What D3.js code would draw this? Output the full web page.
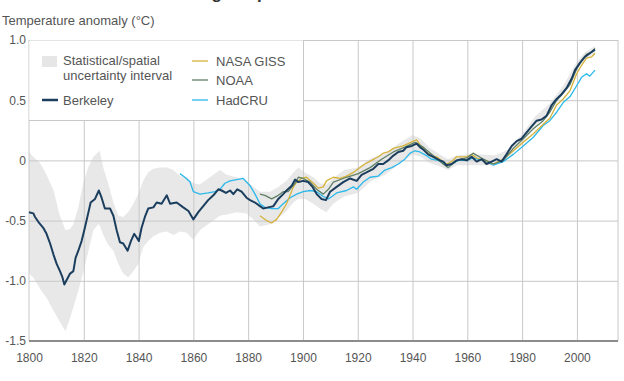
<!DOCTYPE html>
<html>
<head>
<meta charset="utf-8">
<script src="https://cdn.jsdelivr.net/npm/d3@7"></script>
<style>
  body { margin: 0; background: #fff; }
  svg { display: block; font-family: "Liberation Sans", Arial, sans-serif; }
</style>
</head>
<body>
<div id="chart"></div>
<script>
// Data (year, anomaly in degC)
const berkeley = [
  [1800,-0.43],[1801.6,-0.44],[1802.2,-0.47],[1803.4,-0.51],[1805.2,-0.56],[1806.4,-0.61],[1807.7,-0.69],
  [1808.9,-0.78],[1810.1,-0.86],[1811.3,-0.92],[1812.2,-0.97],[1812.9,-1.03],[1813.6,-1.0],[1815,-0.94],
  [1816.2,-0.92],[1817,-0.81],[1818,-0.75],[1819.2,-0.67],[1820.4,-0.56],[1821.6,-0.44],[1822.5,-0.35],
  [1824.1,-0.32],[1825.5,-0.25],[1826.5,-0.31],[1827.7,-0.40],[1829.6,-0.40],[1830.8,-0.46],[1832,-0.58],
  [1833.2,-0.68],[1834.4,-0.69],[1836,-0.75],[1837.2,-0.67],[1838.4,-0.61],[1839.3,-0.64],[1840.1,-0.67],
  [1841.1,-0.56],[1842.3,-0.47],[1843.5,-0.40],[1845.4,-0.39],[1846.6,-0.35],[1848.4,-0.36],[1850.3,-0.29],
  [1851.5,-0.36],[1853.9,-0.35],[1856.3,-0.39],[1858.2,-0.42],[1860,-0.49],[1861.8,-0.43],[1863.6,-0.38],
  [1865.4,-0.33],[1867.3,-0.29],[1869.1,-0.24],[1870.3,-0.25],[1871.9,-0.27],[1873.4,-0.25],[1874.6,-0.28],
  [1876,-0.24],[1877.6,-0.26],[1879.4,-0.31],[1880.7,-0.33],[1882.5,-0.35],[1884.3,-0.38],[1885.5,-0.40],
  [1887.3,-0.39],[1889.2,-0.38],[1891,-0.32],[1892.8,-0.28],[1894,-0.25],[1895.9,-0.21],[1897.1,-0.16],
  [1898.3,-0.18],[1900.1,-0.17],[1901.9,-0.18],[1903.5,-0.22],[1905,-0.28],[1906.8,-0.32],[1908.4,-0.33],
  [1909.9,-0.26],[1912.3,-0.22],[1914.7,-0.18],[1917.2,-0.15],[1919.6,-0.17],[1921.4,-0.12],[1923.2,-0.10],
  [1925.7,-0.07],[1927.5,-0.03],[1929.3,-0.03],[1931.1,0.0],[1933,0.04],[1934.8,0.07],[1936.6,0.08],
  [1937.8,0.11],[1939.7,0.12],[1941.5,0.14],[1942.7,0.11],[1943.9,0.09],[1945.7,0.05],[1947.5,0.03],
  [1950,0.0],[1951.2,-0.01],[1952.4,-0.04],[1954.3,-0.03],[1956.1,0.0],[1957.9,0.01],[1959.8,0.0],
  [1961.6,0.03],[1963.4,-0.01],[1965.3,0.01],[1967,-0.03],[1968.9,-0.01],[1970.7,0.01],[1972.5,-0.01],
  [1974.3,0.05],[1976.2,0.12],[1978,0.16],[1979.8,0.18],[1981.6,0.23],[1983.4,0.28],[1985.3,0.33],
  [1987.1,0.34],[1988.9,0.37],[1990.8,0.46],[1992.6,0.51],[1994.4,0.55],[1996.2,0.60],[1998.1,0.68],
  [1999.3,0.75],[2001.1,0.81],[2002.9,0.86],[2004.7,0.89],[2006.6,0.92]
];

const nasaGiss = [
  [1884.3,-0.46],[1886.7,-0.50],[1888.6,-0.52],[1890.4,-0.49],[1892.2,-0.43],[1894,-0.36],[1895.3,-0.29],
  [1896.5,-0.22],[1897.7,-0.18],[1899.5,-0.15],[1901.3,-0.14],[1903.8,-0.19],[1905.6,-0.23],[1907.4,-0.22],
  [1908.6,-0.17],[1911.1,-0.14],[1913.5,-0.15],[1915.9,-0.13],[1918.4,-0.10],[1920.2,-0.07],[1922.6,-0.03],
  [1925.1,0.0],[1927.5,0.03],[1929.3,0.06],[1931.1,0.07],[1933,0.10],[1934.8,0.11],[1936.6,0.12],
  [1938.4,0.14],[1940.3,0.16],[1941.5,0.17],[1943.3,0.11],[1945.1,0.07],[1946.9,0.04],[1948.8,0.03],
  [1950.6,0.0],[1952.4,-0.03],[1954.3,-0.01],[1956.1,0.03],[1957.9,0.03],[1959.8,0.03],[1961.6,0.05],
  [1963.4,0.02],[1965.9,0.0],[1969.5,-0.03],[1973.1,0.01],[1976.8,0.08],[1980.4,0.15],[1984,0.22],
  [1987.7,0.30],[1990.1,0.35],[1992.6,0.46],[1995,0.51],[1997.5,0.58],[1999.9,0.72],[2001.7,0.79],
  [2003.5,0.85],[2005.4,0.86],[2006.6,0.89]
];

const noaa = [
  [1884.3,-0.28],[1886.1,-0.29],[1888.6,-0.32],[1891,-0.29],[1892.8,-0.26],[1894.6,-0.26],[1897.1,-0.19],
  [1898.3,-0.14],[1900.1,-0.15],[1902.6,-0.18],[1905,-0.24],[1907.4,-0.28],[1909.3,-0.24],[1911.1,-0.18],
  [1915.9,-0.14],[1920.2,-0.11],[1924.5,-0.06],[1928.7,0.01],[1933,0.07],[1937.2,0.11],[1940.9,0.15],
  [1943.9,0.11],[1947.5,0.04],[1951.2,-0.03],[1953,-0.06],[1956.1,0.0],[1959.8,0.02],[1962.1,0.06],
  [1965.9,0.01],[1969.5,-0.03],[1973.1,0.0],[1976.8,0.10],[1980.4,0.18],[1984,0.26],[1987.7,0.33],
  [1990.1,0.40],[1992.6,0.50],[1995,0.56],[1997.5,0.63],[1999.9,0.76],[2001.7,0.83],[2003.5,0.88],
  [2005.4,0.90],[2006.6,0.93]
];

const hadCru = [
  [1855.1,-0.11],[1856.9,-0.14],[1858.8,-0.18],[1860,-0.26],[1862.4,-0.28],[1865.4,-0.27],[1867.9,-0.26],
  [1869.7,-0.24],[1871.5,-0.19],[1873.4,-0.17],[1875.8,-0.16],[1878.2,-0.15],[1880.7,-0.21],[1882.5,-0.28],
  [1884.3,-0.36],[1886.1,-0.39],[1888.6,-0.40],[1891,-0.40],[1892.8,-0.36],[1895.3,-0.31],[1897.7,-0.28],
  [1900.1,-0.26],[1902.6,-0.25],[1905,-0.26],[1907.4,-0.30],[1909.3,-0.32],[1912.3,-0.27],[1915.9,-0.25],
  [1918.4,-0.22],[1919.6,-0.24],[1922,-0.18],[1924.5,-0.14],[1927.5,-0.13],[1929.9,-0.08],[1932.4,-0.06],
  [1934.8,-0.03],[1937.2,0.01],[1939.1,0.06],[1940.9,0.08],[1942.7,0.07],[1945.1,0.04],[1946.9,0.01],
  [1949.4,0.0],[1952.4,-0.04],[1954.3,-0.03],[1956.7,0.0],[1959.8,0.0],[1962.1,0.02],[1965.9,0.0],
  [1969.5,-0.04],[1973.1,-0.01],[1976.8,0.05],[1980.4,0.12],[1984,0.19],[1987.7,0.29],[1990.1,0.33],
  [1992.6,0.40],[1995,0.48],[1997.5,0.53],[1999.9,0.62],[2001.7,0.69],[2003.5,0.72],[2004.7,0.70],
  [2006.6,0.75]
];

// uncertainty band: year, lower, upper
const band = [
  [1800,-0.94,0.07],[1801.5,-0.97,0.03],[1803.9,-1.06,-0.02],[1805,-1.10,-0.06],[1806.4,-1.14,-0.12],
  [1809,-1.25,-0.25],[1811,-1.33,-0.44],[1813.3,-1.42,-0.58],[1815,-1.31,-0.57],[1816.2,-1.22,-0.53],
  [1818,-1.08,-0.39],[1819.8,-0.93,-0.19],[1821.6,-0.76,-0.06],[1823.5,-0.58,0.03],[1825.3,-0.53,0.07],
  [1825.8,-0.54,0.08],[1827.1,-0.62,-0.06],[1828.9,-0.70,-0.19],[1830.8,-0.75,-0.35],[1832.6,-0.86,-0.46],
  [1834.4,-0.94,-0.47],[1836.2,-0.97,-0.43],[1838.1,-0.92,-0.36],[1839.9,-0.86,-0.28],[1841.7,-0.72,-0.17],
  [1843.5,-0.67,-0.10],[1845.4,-0.63,-0.07],[1847.8,-0.60,-0.06],[1850.3,-0.59,-0.06],[1852.7,-0.62,-0.08],
  [1855.1,-0.59,-0.13],[1857.6,-0.60,-0.14],[1860,-0.66,-0.19],[1862.4,-0.58,-0.20],[1863.6,-0.56,-0.18],
  [1867.3,-0.50,-0.12],[1869.7,-0.46,-0.08],[1872.1,-0.45,-0.12],[1875.8,-0.43,-0.14],[1879.4,-0.44,-0.17],
  [1881.9,-0.49,-0.22],[1884.3,-0.55,-0.26],[1888,-0.53,-0.26],[1891,-0.48,-0.22],[1894,-0.42,-0.17],
  [1896.5,-0.35,-0.10],[1898.3,-0.32,-0.06],[1900.7,-0.32,-0.10],[1903.8,-0.36,-0.14],[1906.2,-0.40,-0.19],
  [1908.6,-0.43,-0.20],[1911,-0.36,-0.15],[1915,-0.30,-0.08],[1920,-0.27,-0.06],[1925,-0.17,0.02],
  [1930,-0.12,0.06],[1935,-0.03,0.14],[1940,0.05,0.21],[1943,0.03,0.18],[1946,-0.02,0.11],[1950,-0.05,0.05],
  [1953,-0.08,0.01],[1956,-0.04,0.04],[1960,-0.04,0.05],[1965,-0.04,0.05],[1970,-0.04,0.04],[1975,0.02,0.09],
  [1980,0.14,0.22],[1985,0.29,0.37],[1990,0.40,0.47],[1995,0.55,0.62],[2000,0.75,0.82],[2003,0.84,0.90],
  [2006.6,0.89,0.95]
];

const xTicks = [1800, 1820, 1840, 1860, 1880, 1900, 1920, 1940, 1960, 1980, 2000];
const yTicks = [-1.5, -1.0, -0.5, 0, 0.5, 1.0];

const W = 624, H = 381;
const svg = d3.select("#chart").append("svg").attr("width", W).attr("height", H);

const x = d3.scaleLinear().domain([1800, 2015]).range([29, 618]);
const y = d3.scaleLinear().domain([-1.5, 1.0]).range([341, 40]);

// title sits above the top edge, only the descenders show
svg.append("text")
  .attr("x", 170).attr("y", -1)
  .attr("font-size", 17).attr("font-weight", "bold").attr("fill", "#333")
  .text("Rising temperatures");

svg.append("text")
  .attr("x", 2).attr("y", 25)
  .attr("font-size", 13).attr("fill", "#555")
  .text("Temperature anomaly (°C)");

// band
svg.append("path")
  .datum(band)
  .attr("fill", "#e8e8e8")
  .attr("d", d3.area().x(d => x(d[0])).y0(d => y(d[1])).y1(d => y(d[2])));

// grid + axes
const gx = svg.append("g")
  .attr("transform", `translate(0,${y(-1.5)})`)
  .call(d3.axisBottom(x).tickValues(xTicks).tickFormat(d3.format("d"))
    .tickSize(-(y(-1.5) - y(1.0))).tickPadding(12));
const gy = svg.append("g")
  .attr("transform", `translate(${x(1800)},0)`)
  .call(d3.axisLeft(y).tickValues(yTicks)
    .tickFormat(d => d === 0 ? "0" : d.toFixed(1))
    .tickSize(-(x(2015) - x(1800))).tickPadding(3));
[gx, gy].forEach(g => {
  g.select(".domain").remove();
  g.selectAll(".tick line").attr("stroke", "#c8c8c8");
  g.selectAll(".tick text").attr("fill", "#555").attr("font-size", 12)
    .attr("font-family", "Liberation Sans, Arial, sans-serif");
});
gx.selectAll(".tick line").filter(d => d === 1800).remove();

// frame
svg.append("line").attr("x1", x(1800)).attr("x2", x(1800)).attr("y1", y(1)).attr("y2", y(-1.5)).attr("stroke", "#c8c8c8");
svg.append("line").attr("x1", x(2015)).attr("x2", x(2015)).attr("y1", y(1)).attr("y2", y(-1.5)).attr("stroke", "#c8c8c8");

// series
const line = d3.line().x(d => x(d[0])).y(d => y(d[1]));
const series = [
  { data: hadCru, color: "#2bb8ea", width: 1.3 },
  { data: nasaGiss, color: "#d5b23a", width: 1.3 },
  { data: noaa, color: "#607f66", width: 1.3 },
  { data: berkeley, color: "#1c3e5e", width: 2 }
];
series.forEach(s => {
  svg.append("path").datum(s.data)
    .attr("fill", "none").attr("stroke", s.color)
    .attr("stroke-width", s.width).attr("stroke-linejoin", "round")
    .attr("d", line);
});

// bottom axis line
svg.append("line").attr("x1", x(1800)).attr("x2", x(2015))
  .attr("y1", y(-1.5)).attr("y2", y(-1.5))
  .attr("stroke", "#8c8c8c").attr("stroke-width", 2);

// legend
const lg = svg.append("g");
lg.append("rect").attr("x", 29.5).attr("y", 40.5).attr("width", 274).attr("height", 80).attr("fill", "#fff");
lg.append("path").attr("d", "M303.5,40V120.5H29").attr("fill", "none").attr("stroke", "#c8c8c8");
lg.append("rect").attr("x", 42).attr("y", 56).attr("width", 15).attr("height", 11).attr("fill", "#e6e6e6");
const lt = (tx, ty, s) => lg.append("text").attr("x", tx).attr("y", ty)
  .attr("font-size", 13).attr("fill", "#555").text(s);
lt(63, 65, "Statistical/spatial");
lt(63, 80, "uncertainty interval");
lg.append("line").attr("x1", 42).attr("x2", 58).attr("y1", 100).attr("y2", 100)
  .attr("stroke", "#1c3e5e").attr("stroke-width", 2.5);
lt(63, 105, "Berkeley");
const right = [["NASA GISS", "#d5b23a", 61], ["NOAA", "#607f66", 80], ["HadCRU", "#2bb8ea", 100]];
right.forEach(([name, c, ly]) => {
  lg.append("line").attr("x1", 192).attr("x2", 208).attr("y1", ly).attr("y2", ly)
    .attr("stroke", c).attr("stroke-width", 1.3);
  lt(216, ly + 5, name);
});
</script>
</body>
</html>
